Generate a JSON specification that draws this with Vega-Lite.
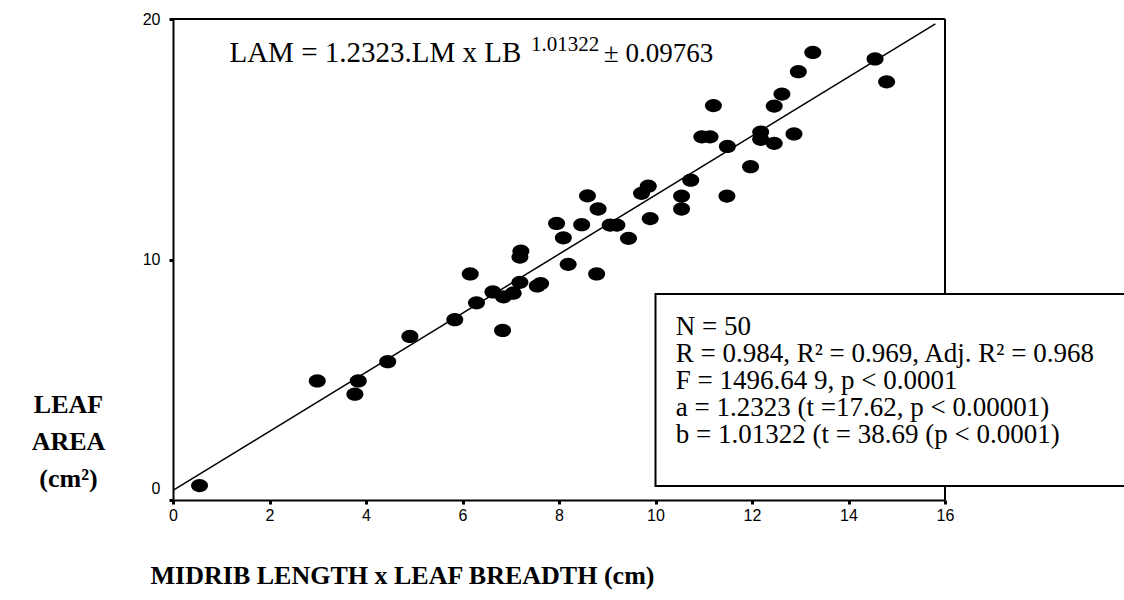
{
  "$schema": "https://vega.github.io/schema/vega-lite/v6.json",
  "width": 772,
  "height": 481,
  "autosize": {"type": "none"},
  "padding": {"left": 173, "top": 19, "right": 179, "bottom": 100},
  "background": "white",
  "config": {"view": {"stroke": null}},
  "datasets": {
    "leaves": [
      {"lmlb": 0.55, "area": 0.6},
      {"lmlb": 2.99, "area": 4.95},
      {"lmlb": 3.77, "area": 4.4},
      {"lmlb": 3.84, "area": 4.95},
      {"lmlb": 4.45, "area": 5.75},
      {"lmlb": 4.91, "area": 6.8},
      {"lmlb": 5.84, "area": 7.5},
      {"lmlb": 6.16, "area": 9.4},
      {"lmlb": 6.29, "area": 8.2},
      {"lmlb": 6.63, "area": 8.65},
      {"lmlb": 6.83, "area": 7.05},
      {"lmlb": 6.85, "area": 8.45},
      {"lmlb": 7.05, "area": 8.6},
      {"lmlb": 7.19, "area": 9.05},
      {"lmlb": 7.19, "area": 10.1},
      {"lmlb": 7.21, "area": 10.35},
      {"lmlb": 7.55, "area": 8.9},
      {"lmlb": 7.62, "area": 9.0},
      {"lmlb": 7.95, "area": 11.5},
      {"lmlb": 8.09, "area": 10.9},
      {"lmlb": 8.19, "area": 9.8},
      {"lmlb": 8.47, "area": 11.45},
      {"lmlb": 8.59, "area": 12.65},
      {"lmlb": 8.78, "area": 9.4},
      {"lmlb": 8.81, "area": 12.1},
      {"lmlb": 9.06, "area": 11.43},
      {"lmlb": 9.2, "area": 11.43},
      {"lmlb": 9.44, "area": 10.88},
      {"lmlb": 9.71, "area": 12.75},
      {"lmlb": 9.85, "area": 13.05},
      {"lmlb": 9.89, "area": 11.7},
      {"lmlb": 10.54, "area": 12.64},
      {"lmlb": 10.54, "area": 12.1},
      {"lmlb": 10.73, "area": 13.3},
      {"lmlb": 10.96, "area": 15.1},
      {"lmlb": 11.13, "area": 15.1},
      {"lmlb": 11.2, "area": 16.4},
      {"lmlb": 11.48, "area": 12.64},
      {"lmlb": 11.49, "area": 14.7},
      {"lmlb": 11.97, "area": 13.86},
      {"lmlb": 12.18, "area": 15.3},
      {"lmlb": 12.18, "area": 15.0},
      {"lmlb": 12.46, "area": 14.83},
      {"lmlb": 12.46, "area": 16.38},
      {"lmlb": 12.62, "area": 16.88},
      {"lmlb": 12.87, "area": 15.22},
      {"lmlb": 12.96, "area": 17.81},
      {"lmlb": 13.26, "area": 18.61},
      {"lmlb": 14.55, "area": 18.34},
      {"lmlb": 14.79, "area": 17.39}
    ],
    "fit": [
      {"lmlb": 0, "area": 0.4},
      {"lmlb": 15.8, "area": 19.8}
    ],
    "stats": [
      {"lines": ["N = 50", "R = 0.984, R² = 0.969, Adj. R² = 0.968", "F = 1496.64 9, p < 0.0001", "a = 1.2323 (t =17.62, p < 0.00001)", "b = 1.01322 (t = 38.69 (p < 0.0001)"]}
    ]
  },
  "layer": [
    {
      "data": {"name": "leaves"},
      "mark": {"type": "point", "filled": true, "color": "black", "opacity": 1, "size": 289,
               "shape": "M-1,0A1,0.78,0,1,0,1,0A1,0.78,0,1,0,-1,0Z"},
      "encoding": {
        "x": {"field": "lmlb", "type": "quantitative",
              "scale": {"domain": [0, 16], "nice": false, "zero": false},
              "axis": {"title": "MIDRIB LENGTH x LEAF BREADTH (cm)", "values": [0, 2, 4, 6, 8, 10, 12, 14, 16],
                       "grid": false, "domainColor": "black", "domainWidth": 2, "tickColor": "black", "tickWidth": 3, "tickSize": 4,
                       "labelFont": "Liberation Sans", "labelFontSize": 16, "labelColor": "black", "labelPadding": 3, "labelFlush": false,
                       "titleFont": "Liberation Serif", "titleFontWeight": "bold", "titleFontSize": 26, "titleColor": "black",
                       "titleX": 229, "titleY": 83, "titleAlign": "center", "titleBaseline": "alphabetic", "titleAnchor": null}},
        "y": {"field": "area", "type": "quantitative",
              "scale": {"domain": [0, 20], "nice": false, "zero": false},
              "axis": {"title": ["LEAF", "AREA", "(cm²)"], "values": [0, 10, 20],
                       "grid": false, "domainColor": "black", "domainWidth": 2, "tickColor": "black", "tickWidth": 3, "tickSize": 4,
                       "labelFont": "Liberation Sans", "labelFontSize": 16, "labelColor": "black", "labelPadding": 9, "labelFlush": false,
                       "labelBaseline": {"condition": {"test": "datum.value === 0", "value": "bottom"}, "value": "middle"},
                       "labelOffset": {"condition": {"test": "datum.value === 0", "value": -4}, "value": 0},
                       "titleFont": "Liberation Serif", "titleFontWeight": "bold", "titleFontSize": 26, "titleColor": "black",
                       "titleAngle": 0, "titleX": -105, "titleY": 393, "titleAlign": "center", "titleBaseline": "alphabetic",
                       "titleLineHeight": 37, "titleAnchor": null}}
      }
    },
    {
      "data": {"values": [{}]},
      "mark": {"type": "rule", "color": "black", "strokeWidth": 2},
      "encoding": {"x": {"datum": 0}, "x2": {"datum": 16}, "y": {"datum": 20}}
    },
    {
      "data": {"values": [{}]},
      "mark": {"type": "rule", "color": "black", "strokeWidth": 2},
      "encoding": {"x": {"datum": 16}, "y": {"datum": 0}, "y2": {"datum": 20}}
    },
    {
      "data": {"name": "fit"},
      "mark": {"type": "line", "color": "black", "strokeWidth": 1.5},
      "encoding": {"x": {"field": "lmlb", "type": "quantitative"}, "y": {"field": "area", "type": "quantitative"}}
    },
    {
      "data": {"values": [{}]},
      "mark": {"type": "rect", "fill": "white", "stroke": "black", "strokeWidth": 2},
      "encoding": {"x": {"datum": 10}, "x2": {"datum": 20}, "y": {"datum": 8.57}, "y2": {"datum": 0.58}}
    },
    {
      "data": {"name": "stats"},
      "mark": {"type": "text", "align": "left", "baseline": "alphabetic", "font": "Liberation Serif", "fontSize": 27, "lineHeight": 27, "color": "black"},
      "encoding": {"x": {"datum": 10.42}, "y": {"datum": 6.88}, "text": {"field": "lines"}}
    },
    {
      "data": {"values": [{"t": "LAM = 1.2323.LM x LB"}]},
      "mark": {"type": "text", "align": "left", "baseline": "alphabetic", "font": "Liberation Serif", "fontSize": 29, "color": "black"},
      "encoding": {"x": {"datum": 1.17}, "y": {"datum": 18.2}, "text": {"field": "t"}}
    },
    {
      "data": {"values": [{"t": "1.01322"}]},
      "mark": {"type": "text", "align": "left", "baseline": "alphabetic", "font": "Liberation Serif", "fontSize": 21, "color": "black"},
      "encoding": {"x": {"datum": 7.42}, "y": {"datum": 18.65}, "text": {"field": "t"}}
    },
    {
      "data": {"values": [{"t": "± 0.09763"}]},
      "mark": {"type": "text", "align": "left", "baseline": "alphabetic", "font": "Liberation Serif", "fontSize": 27, "color": "black"},
      "encoding": {"x": {"datum": 8.93}, "y": {"datum": 18.2}, "text": {"field": "t"}}
    }
  ]
}
